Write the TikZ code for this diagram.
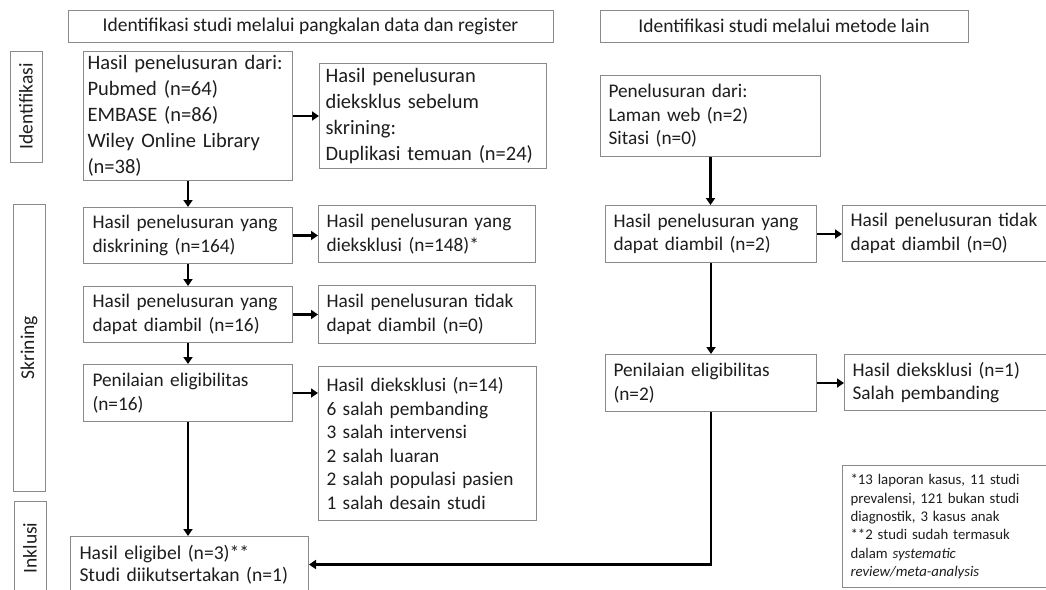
\documentclass[tikz,border=0pt]{standalone}
\usepackage{fontspec}
\setmainfont{Carlito}
\usetikzlibrary{arrows.meta}
\definecolor{boxgray}{HTML}{8A8A8A}
\definecolor{txt}{HTML}{1E1E1E}
\newcommand\mainfs{\fontsize{19.3}{23.6}\selectfont}
\newcommand\widefs{\fontsize{20.5}{26}\selectfont}
\newcommand\headfs{\fontsize{19.5}{24}\selectfont}
\newcommand\notefs{\fontsize{14.8}{18.3}\selectfont}
\tikzset{
  box/.style={draw=boxgray, line width=1pt, inner xsep=8pt, inner ysep=0pt,
    align=left, font=\mainfs, text=txt, anchor=north west},
  head/.style={draw=boxgray, line width=1pt, inner sep=0pt, align=center,
    font=\headfs, text=txt},
  side/.style={draw=boxgray, line width=1pt, inner sep=0pt, rotate=90,
    font=\headfs, text=txt, minimum height=32pt},
  arr/.style={line width=2.3pt, line join=miter, draw=black,
    -{Triangle[length=7pt,width=9pt]}}
}
\begin{document}
\begin{tikzpicture}[x=1pt,y=-1pt]
\useasboundingbox (0,0) rectangle (1046,589);
\fill[white] (0,0) rectangle (1046,589);
\clip (0,0) rectangle (1046,589);

% headers
\node[head, minimum width=485pt, minimum height=32pt] (h1) at (310.5,26)
  {Identifikasi studi melalui pangkalan data dan register};
\node[head, minimum width=368pt, minimum height=32pt] (h2) at (784,26)
  {Identifikasi studi melalui metode lain};

% side labels
\node[side, minimum width=111pt] (sid) at (26,106.5) {Identifikasi};
\node[side, minimum width=287pt] (ssk) at (29,347.5) {Skrining};
\node[side, minimum width=94pt] (sin) at (30,548) {Inklusi};

% left column
\node[box, inner xsep=4pt, font=\widefs, minimum width=209pt, minimum height=129pt, text width=201pt] (A) at (83,51)
  {Hasil penelusuran dari:\\Pubmed (n=64)\\EMBASE (n=86)\\Wiley Online Library\\(n=38)};
\node[box, inner xsep=6pt, font=\widefs, minimum width=227pt, minimum height=105pt, text width=215pt] (B) at (319,63)
  {Hasil penelusuran\\dieksklus sebelum\\skrining:\\Duplikasi temuan (n=24)};
\node[box, inner xsep=9pt, minimum width=209pt, minimum height=56pt, text width=191pt] (D) at (83,207)
  {\mbox{Hasil penelusuran yang}\\diskrining (n=164)};
\node[box, minimum width=217pt, minimum height=57pt, text width=201pt] (E) at (318,205)
  {\mbox{Hasil penelusuran yang}\\dieksklusi (n=148)*};
\node[box, inner xsep=9pt, minimum width=209pt, minimum height=56pt, text width=191pt] (F) at (83,286)
  {\mbox{Hasil penelusuran yang}\\dapat diambil (n=16)};
\node[box, minimum width=217pt, minimum height=58pt, text width=201pt] (G) at (318,285)
  {\mbox{Hasil penelusuran tidak}\\dapat diambil (n=0)};
\node[box, inner xsep=9pt, minimum width=209pt, minimum height=57pt, text width=191pt] (H) at (83,364)
  {Penilaian eligibilitas\\(n=16)};
\node[box, minimum width=218pt, minimum height=154pt, text width=202pt] (I) at (318,366)
  {Hasil dieksklusi (n=14)\\6 salah pembanding\\3 salah intervensi\\2 salah luaran\\2 salah populasi pasien\\1 salah desain studi};
\node[box, inner xsep=9pt, font=\fontsize{19.6}{22}\selectfont, minimum width=238pt, minimum height=56pt, text width=220pt] (N) at (70,536)
  {Hasil eligibel (n=3)**\\Studi diikutsertakan (n=1)};

% right column
\node[box, minimum width=220pt, minimum height=81pt, text width=204pt] (C) at (600,75)
  {Penelusuran dari:\\Laman web (n=2)\\Sitasi (n=0)};
\node[box, minimum width=211pt, minimum height=57pt, text width=195pt] (J) at (605,205)
  {\mbox{Hasil penelusuran yang}\\dapat diambil (n=2)};
\node[box, minimum width=218pt, minimum height=56pt, text width=202pt] (K) at (842,205)
  {\mbox{Hasil penelusuran tidak}\\dapat diambil (n=0)};
\node[box, minimum width=211pt, minimum height=57pt, text width=195pt] (L) at (605,354)
  {Penilaian eligibilitas\\(n=2)};
\node[box, minimum width=216pt, minimum height=56pt, text width=200pt] (M) at (844,354)
  {Hasil dieksklusi (n=1)\\Salah pembanding};
\node[box, font=\notefs, minimum width=218pt, minimum height=122pt, text width=202pt] (fn) at (842,465)
  {*13 laporan kasus, 11 studi\\prevalensi, 121 bukan studi\\diagnostik, 3 kasus anak\\{}**2 studi sudah termasuk\\dalam \textit{systematic}\\\textit{review/meta-analysis}};

% connectors
\draw[arr] (A.east) -- (A.east -| B.west);
\draw[arr] (A.south) -- (A.south |- D.north);
\draw[arr] (D.east) -- (D.east -| E.west);
\draw[arr] (D.south) -- (F.north);
\draw[arr] (F.east) -- (F.east -| G.west);
\draw[arr] (F.south) -- (H.north);
\draw[arr] (H.east) -- (H.east -| I.west);
\draw[arr] (H.south) -- (H.south |- N.north);
\draw[arr] (C.south) -- (C.south |- J.north);
\draw[arr] (J.east) -- (J.east -| K.west);
\draw[arr] (J.south) -- (J.south |- L.north);
\draw[arr] (L.east) -- (L.east -| M.west);
\draw[arr] (L.south) |- (N.east);
\end{tikzpicture}
\end{document}
